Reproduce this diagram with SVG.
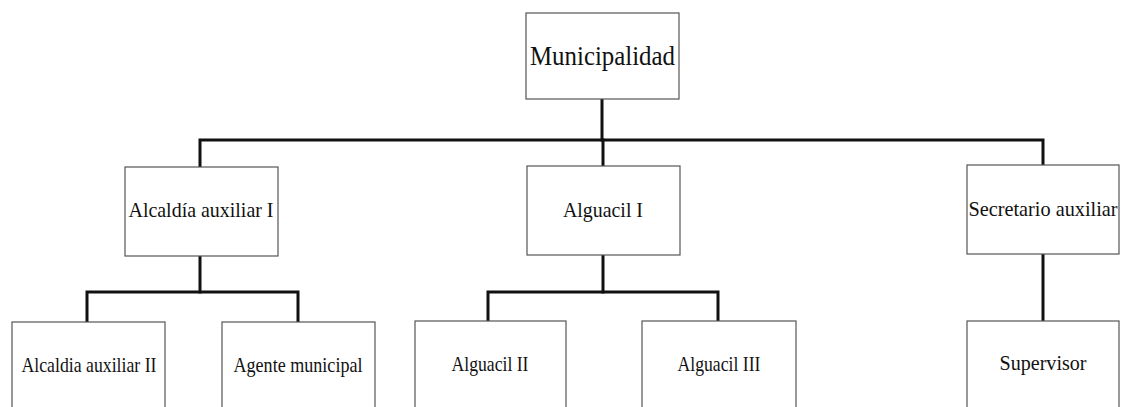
<svg xmlns="http://www.w3.org/2000/svg" width="1134" height="407" viewBox="0 0 1134 407">
<style>
.box{fill:#fff;stroke:#555;stroke-width:1.2}
.lbl{font-family:"Liberation Serif","Times New Roman",serif;fill:#111;text-anchor:middle}
.l1{font-size:27px}
.l2{font-size:22px}
.l3{font-size:21px}
.con{fill:none;stroke:#111;stroke-width:3;stroke-linejoin:miter;stroke-linecap:square}
</style>
<rect width="1134" height="407" fill="#fff"/>
<g id="connectors">
<path class="con" d="M602,100 V140"/>
<path class="con" d="M200,166 V140 H1043 V165"/>
<path class="con" d="M603,140 V166"/>
<path class="con" d="M200,256 V292"/>
<path class="con" d="M87,321 V292 H298 V321"/>
<path class="con" d="M603,256 V292"/>
<path class="con" d="M488,321 V292 H718 V321"/>
<path class="con" d="M1043,255 V320"/>
</g>
<g id="n-municipalidad"><rect class="box" x="526" y="13" width="153" height="86"/><text class="lbl l1" x="602.5" y="65" textLength="145" lengthAdjust="spacingAndGlyphs">Municipalidad</text></g>
<g id="n-alcaldia1"><rect class="box" x="125" y="167" width="153" height="89"/><text class="lbl l2" x="201" y="217" textLength="145" lengthAdjust="spacingAndGlyphs">Alcaldía auxiliar I</text></g>
<g id="n-alguacil1"><rect class="box" x="527" y="166" width="153" height="89"/><text class="lbl l2" x="603" y="217" textLength="80" lengthAdjust="spacingAndGlyphs">Alguacil I</text></g>
<g id="n-secretario"><rect class="box" x="967" y="165" width="152" height="89"/><text class="lbl l2" x="1043" y="216" textLength="149" lengthAdjust="spacingAndGlyphs">Secretario auxiliar</text></g>
<g id="n-alcaldia2"><rect class="box" x="12" y="322" width="153" height="90"/><text class="lbl l3" x="89" y="372" textLength="135" lengthAdjust="spacingAndGlyphs">Alcaldia auxiliar II</text></g>
<g id="n-agente"><rect class="box" x="222" y="322" width="153" height="90"/><text class="lbl l3" x="298" y="372" textLength="129" lengthAdjust="spacingAndGlyphs">Agente municipal</text></g>
<g id="n-alguacil2"><rect class="box" x="415" y="321" width="151" height="90"/><text class="lbl l3" x="490" y="371" textLength="77" lengthAdjust="spacingAndGlyphs">Alguacil II</text></g>
<g id="n-alguacil3"><rect class="box" x="642" y="321" width="154" height="90"/><text class="lbl l3" x="719" y="371" textLength="83" lengthAdjust="spacingAndGlyphs">Alguacil III</text></g>
<g id="n-supervisor"><rect class="box" x="967" y="321" width="152" height="90"/><text class="lbl l3" x="1043" y="370" textLength="87" lengthAdjust="spacingAndGlyphs">Supervisor</text></g>
</svg>
